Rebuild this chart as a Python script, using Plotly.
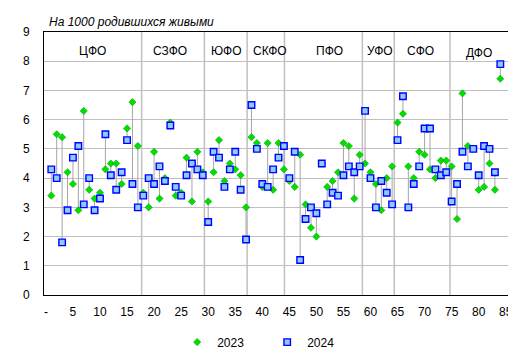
import plotly.graph_objects as go

# Region index (position on the x axis)
regions = list(range(1, 85))

# Values per 1000 live births
v2023 = [3.4, 5.5, 5.4, 4.2, 3.8, 2.9, 6.3, 3.6, 3.3, 3.5,
         4.3, 4.5, 4.5, 3.8, 5.7, 6.6, 5.1, 3.5, 3.0, 4.9,
         3.3, 4.0, 5.9, 3.4, 3.5, 4.7, 3.2, 4.9, 4.2, 3.2,
         4.2, 5.3, 3.9, 4.5, 4.3, 4.1, 3.0, 5.4, 5.2, 3.7,
         5.2, 3.6, 5.2, 4.3, 3.9, 3.7, 4.8, 3.1, 2.3, 2.0,
         4.5, 3.7, 3.9, 4.2, 5.2, 5.1, 3.3, 4.8, 4.5, 4.2,
         3.8, 2.9, 4.0, 4.4, 5.9, 6.2, 4.4, 4.0, 4.9, 4.8,
         4.3, 4.0, 4.6, 4.6, 4.4, 2.6, 6.9, 5.1, 5.0, 3.6,
         3.7, 4.5, 3.6, 7.4]
v2024 = [4.3, 4.0, 1.8, 2.9, 4.7, 5.1, 3.1, 4.0, 2.9, 3.3,
         5.5, 4.1, 3.6, 4.2, 5.3, 3.8, 3.0, 3.4, 4.0, 3.8,
         4.4, 3.9, 5.8, 3.7, 3.4, 4.1, 4.5, 4.3, 4.1, 2.5,
         4.9, 4.7, 3.7, 4.3, 4.9, 3.6, 1.9, 6.5, 5.0, 3.8,
         3.7, 4.3, 4.7, 5.1, 4.0, 4.9, 1.2, 2.6, 3.0, 2.8,
         4.5, 3.1, 3.5, 3.4, 4.1, 4.4, 4.2, 4.4, 6.3, 4.0,
         3.0, 3.9, 3.5, 3.1, 5.3, 6.8, 3.0, 3.8, 4.4, 5.7,
         5.7, 4.3, 4.1, 4.2, 3.2, 3.8, 4.9, 4.4, 5.0, 4.1,
         5.1, 5.0, 4.2, 7.9]

x_ticks = list(range(0, 90, 5))
x_tick_labels = ["-"] + [str(t) for t in x_ticks[1:]]
y_ticks = list(range(0, 10))

districts = ["ЦФО", "СЗФО", "ЮФО", "СКФО", "ПФО", "УФО", "СФО", "ДФО"]
district_label_x = [8.7, 22.9, 33.4, 41.4, 52.5, 61.8, 69.3, 80.0]
district_label_y = [8.35, 8.35, 8.35, 8.35, 8.35, 8.35, 8.35, 8.28]
district_bounds = [17.7, 29.3, 37.2, 44.1, 58.5, 64.4, 74.7]

FONT = "Liberation Sans, Arial, sans-serif"

# high-low connector lines between the two years
hl_x, hl_y = [], []
for r, a, b in zip(regions, v2023, v2024):
    hl_x += [r, r, None]
    hl_y += [a, b, None]

fig = go.Figure()
fig.add_trace(go.Scatter(x=hl_x, y=hl_y, mode="lines",
                         line=dict(color="#a6a6a6", width=1),
                         showlegend=False, hoverinfo="skip"))
fig.add_trace(go.Scatter(x=regions, y=v2023, mode="markers", name="2023",
                         legend="legend",
                         marker=dict(symbol="diamond", size=5.5, color="#00e000",
                                     line=dict(color="#00a000", width=0.6))))
fig.add_trace(go.Scatter(x=regions, y=v2024, mode="markers", name="2024",
                         legend="legend2",
                         marker=dict(symbol="square", size=6.5, color="#8ccbff",
                                     line=dict(color="#0000ff", width=1.4))))

shapes = [dict(type="line", xref="x", yref="paper", x0=b, x1=b, y0=0, y1=1,
               line=dict(color="#c0c0c0", width=1.5), layer="below")
          for b in district_bounds]

annotations = [dict(x=x, y=y, xref="x", yref="y", text=t, showarrow=False,
                    font=dict(size=12, color="black", family=FONT))
               for t, x, y in zip(districts, district_label_x, district_label_y)]
annotations.append(dict(x=0.006, y=1.037, xref="paper", yref="paper",
                        xanchor="left", yanchor="middle", showarrow=False,
                        text="<i>На 1000 родившихся живыми</i>",
                        font=dict(size=12, color="black", family=FONT)))

legend_common = dict(orientation="h", y=-0.179, yanchor="middle",
                     xanchor="left", font=dict(size=12), itemwidth=30,
                     bgcolor="rgba(0,0,0,0)")

fig.update_layout(
    width=516, height=361,
    margin=dict(l=36, r=16, t=24, b=64),
    paper_bgcolor="white", plot_bgcolor="white",
    font=dict(family=FONT, size=12, color="black"),
    shapes=shapes, annotations=annotations,
    showlegend=True,
    legend=dict(x=0.287, **legend_common),
    legend2=dict(x=0.481, **legend_common),
    xaxis=dict(range=[-0.35, 85.42], tickvals=x_ticks, ticktext=x_tick_labels,
               showgrid=False, zeroline=False, showline=True, linecolor="black",
               linewidth=1, mirror=True, ticks="", tickfont=dict(size=12),
               ticklabelstandoff=6),
    yaxis=dict(range=[0, 9], tickvals=y_ticks, showgrid=True, gridcolor="#c0c0c0",
               gridwidth=1, zeroline=False, showline=True, linecolor="black",
               linewidth=1, mirror=True, ticks="", tickfont=dict(size=12),
               ticklabelstandoff=11),
)

fig.write_html("out.html")
